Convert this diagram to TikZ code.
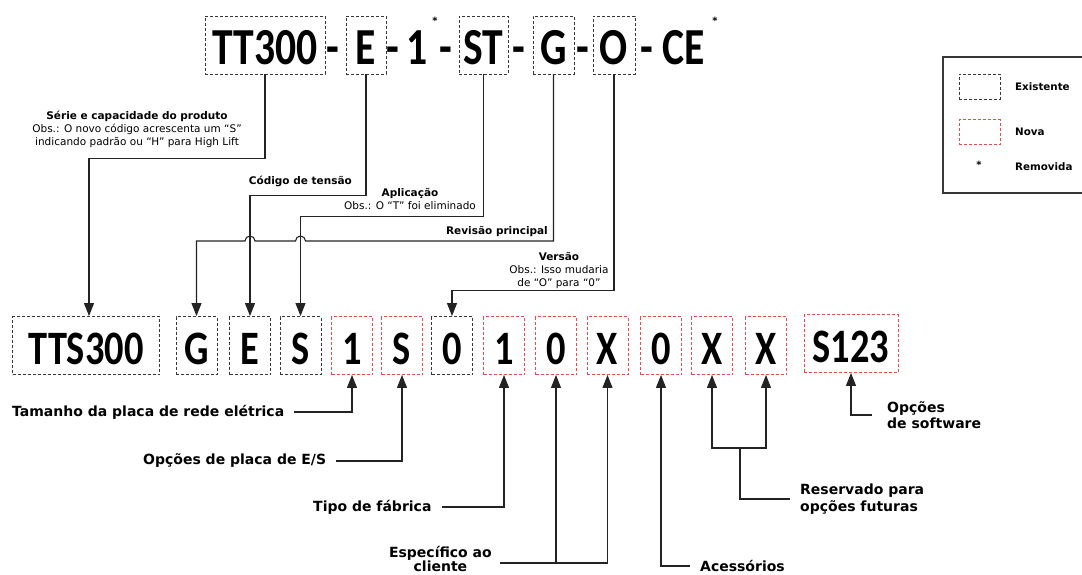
\documentclass[tikz,border=0pt]{standalone}
\usepackage{fontspec}
\setmainfont{DejaVu Sans}
\newfontfamily\codefont{Carlito}[FakeStretch=0.8]
\usetikzlibrary{arrows.meta,positioning}
\definecolor{boxgray}{RGB}{55,55,55}
\definecolor{boxred}{RGB}{232,76,76}
\definecolor{linegray}{RGB}{35,35,35}
\tikzset{
  codetop/.style={font={\codefont\bfseries\fontsize{52pt}{56pt}\selectfont},
    text height=39.5pt, text depth=0pt, inner xsep=0pt, inner ysep=9.25pt},
  codebot/.style={font={\codefont\bfseries\fontsize{48pt}{52pt}\selectfont},
    text height=37.5pt, text depth=0pt, inner xsep=0pt, inner ysep=10.25pt},
  codebox/.style={line width=0.9pt, dash pattern=on 3pt off 2pt},
  toplabel/.style={font=\fontsize{10.5pt}{13pt}\selectfont, inner sep=0pt},
  botlabel/.style={font=\bfseries\fontsize{14pt}{16.5pt}\selectfont, inner sep=0pt},
  leglabel/.style={font=\bfseries\fontsize{10.3pt}{12pt}\selectfont, inner sep=0pt, anchor=west},
  arr/.style={draw=linegray, line width=1.1pt, -{Triangle[length=13pt,width=10pt]}},
  conn/.style={draw=linegray, line width=1.1pt}
}
\begin{document}
\begin{tikzpicture}[x=1pt,y=-1pt]
    \useasboundingbox (0,0) rectangle (1082,574);
    % Old code
    \node[codetop,codebox,draw=boxgray,minimum width=120pt] (tTT) at (265,45) {TT300};
    \node[codetop] (d1) at (333,45) {-};
    \node[codetop,codebox,draw=boxgray,minimum width=40pt] (tE) at (366,45) {E};
    \node[codetop] (d2) at (393,45) {-};
    \node[codetop] (tOne) at (417,45) {1};
    \node[font=\bfseries\fontsize{10pt}{10pt}\selectfont] (s1) at (435,21) {*};
    \node[codetop] (d3) at (446,45) {-};
    \node[codetop,codebox,draw=boxgray,minimum width=49pt] (tST) at (483.5,45) {ST};
    \node[codetop] (d4) at (519,45) {-};
    \node[codetop,codebox,draw=boxgray,minimum width=41pt] (tG) at (553.5,45) {G};
    \node[codetop] (d5) at (583,45) {-};
    \node[codetop,codebox,draw=boxgray,minimum width=42pt] (tO) at (614,45) {O};
    \node[codetop] (d6) at (647,45) {-};
    \node[codetop] (tCE) at (684,45) {CE};
    \node[font=\bfseries\fontsize{10pt}{10pt}\selectfont] (s2) at (715,21) {*};
    % New code
    \node[codebot,codebox,draw=boxgray,minimum width=147pt] (bTTS) at (86,345.5) {TTS300};
    \foreach \n/\x/\t/\c in {G/196.5/G/boxgray, E/250/E/boxgray, S/300.5/S/boxgray,
        N/352/1/boxred, IO/402/S/boxred, V/452/0/boxgray, F/504/1/boxred,
        C/556/0/boxred, CX/607.5/X/boxred, A/661/0/boxred, R/712/X/boxred, RX/766/X/boxred}
        \node[codebot,codebox,draw=\c,minimum width=41pt] (b\n) at (\x,345.5) {\t};
    \node[codebot,codebox,draw=boxred,minimum width=94pt] (bSW) at (851,343.5) {S123};
    % Labels above
    \node[toplabel,align=center] (lSerie) at (137,129)
        {\textbf{Série e capacidade do produto}\\Obs.: O novo código acrescenta um “S”\\indicando padrão ou “H” para High Lift};
    \node[toplabel,anchor=east] (lTen) at (352,181) {\textbf{Código de tensão}};
    \node[toplabel,align=center] (lApl) at (410,199) {\textbf{Aplicação}\\Obs.: O “T” foi eliminado};
    \node[toplabel,anchor=east] (lRev) at (548,232) {\textbf{Revisão principal}};
    \node[toplabel,align=center] (lVer) at (559,271) {\textbf{Versão}\\Obs.: Isso mudaria\\de “O” para “0”};
    % Old to new
    \draw[arr] (tTT.south) -- ++(0,84) -| ([xshift=3pt]bTTS.north);
    \draw[arr] (tE.south) -- ++(0,121) -| (bE.north);
    \draw[arr] (tST.south) -- ++(0,142) -| (bS.north);
    \draw[arr] (tG.south) |- ([xshift=5pt]bS.north |- 0,241)
        arc[start angle=0,end angle=180,radius=5pt] -- ([xshift=5pt]bE.north |- 0,241)
        arc[start angle=0,end angle=180,radius=5pt] -| (bG.north);
    \draw[arr] (tO.south) -- ++(0,216) -| (bV.north);
    % Labels below
    \node[botlabel,anchor=west] (lTam) at (12,412) {Tamanho da placa de rede elétrica};
    \node[botlabel,anchor=west] (lIO) at (143,461) {Opções de placa de E/S};
    \node[botlabel,anchor=west] (lTipo) at (313,507) {Tipo de fábrica};
    \node[botlabel,align=center,anchor=east,font=\bfseries\fontsize{14pt}{14.5pt}\selectfont] (lCli) at (492,559) {Específico ao\\cliente};
    \node[botlabel,anchor=west] (lAcc) at (700,566) {Acessórios};
    \node[botlabel,align=left,anchor=west] (lRes) at (800,499) {Reservado para\\opções futuras};
    \node[botlabel,align=left,anchor=west] (lSW) at (887,415) {Opções\\de software};
    \draw[arr] ([xshift=10pt]lTam.east) -| (bN.south);
    \draw[arr] ([xshift=10pt]lIO.east) -| (bIO.south);
    \draw[arr] ([xshift=10pt]lTipo.east) -| (bF.south);
    \coordinate (jCli) at ([xshift=8pt,yshift=-4pt]lCli.east);
    \draw[arr] (jCli) -| (bCX.south);
    \draw[arr] (bC.south |- jCli) -- (bC.south);
    \draw[arr] ([xshift=-10pt]lAcc.west) -| (bA.south);
    \coordinate (jRes) at (740,448);
    \draw[arr] (jRes) -| (bR.south);
    \draw[arr] (jRes) -| (bRX.south);
    \draw[conn] (jRes) |- ([xshift=-10pt]lRes.west);
    \draw[arr] ([xshift=-15pt]lSW.west) -| (bSW.south);
    % Legend
    \draw[draw=boxgray, line width=1.1pt] (1082,57) -| (943,193) -- (1082,193);
    \node[codebox,draw=boxgray,minimum width=41pt,minimum height=25pt,inner sep=0pt] (kOld) at (979.5,86.5) {};
    \node[leglabel] (kOldT) at (1015,86.5) {Existente};
    \node[codebox,draw=boxred,minimum width=41pt,minimum height=25pt,inner sep=0pt] (kNew) at (979.5,132) {};
    \node[leglabel] (kNewT) at (1015,132) {Nova};
    \node[font=\bfseries\fontsize{10pt}{10pt}\selectfont] (kStar) at (979,165) {*};
    \node[leglabel] (kStarT) at (1015,167) {Removida};
\end{tikzpicture}
\end{document}
